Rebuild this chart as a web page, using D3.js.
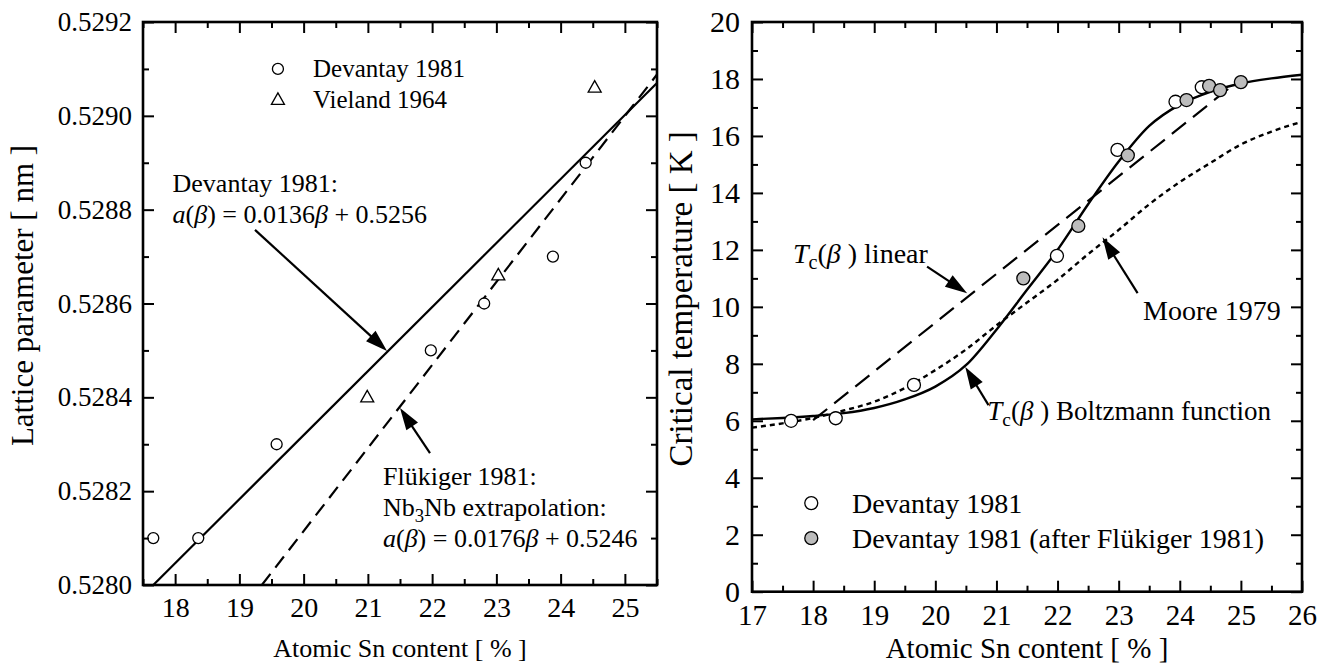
<!DOCTYPE html>
<html><head><meta charset="utf-8">
<script src="https://cdn.jsdelivr.net/npm/d3@7"></script>
<style>
body{margin:0;background:#fff}
svg text{font-family:"Liberation Serif","Times New Roman",serif;fill:#000}
</style>
</head><body>
<svg id="chart" width="1328" height="668"></svg>
<script>
// ---------- Left panel: lattice parameter ----------
const latXMajor = [18,19,20,21,22,23,24,25];
const latXMinor = [17.5,18.5,19.5,20.5,21.5,22.5,23.5,24.5,25.5];
const latYMajor = [0.5280,0.5282,0.5284,0.5286,0.5288,0.5290,0.5292];
const latYMinor = [0.5281,0.5283,0.5285,0.5287,0.5289,0.5291];
const devLatX = [17.66,18.36,19.58,21.98,22.81,23.88,24.39];
const devLatY = [0.52810,0.52810,0.52830,0.52850,0.52860,0.52870,0.52890];
const vieLatX = [20.99,23.03,24.53];
const vieLatY = [0.52840,0.52866,0.52906];
const devFitX = [17.66,25.5];
const devFitY = [0.52800,0.52907];
const flkFitX = [19.35,25.5];
const flkFitY = [0.52800,0.529088];

// ---------- Right panel: critical temperature ----------
const tcXMajor = [17,18,19,20,21,22,23,24,25,26];
const tcXMinor = [17.5,18.5,19.5,20.5,21.5,22.5,23.5,24.5,25.5];
const tcYMajor = [0,2,4,6,8,10,12,14,16,18,20];
const tcYMinor = [1,3,5,7,9,11,13,15,17,19];
const devTcX = [17.64,18.37,19.65,21.99,22.98,23.93,24.36];
const devTcY = [6.0,6.09,7.26,11.79,15.51,17.2,17.71];
const flkTcX = [21.44,22.34,23.15,24.11,24.48,24.66,25.0];
const flkTcY = [11.0,12.84,15.32,17.26,17.76,17.61,17.89];
const boltzX = [17,17.5,18,18.5,19,19.5,20,20.5,21,21.5,22,22.5,23,23.5,24,24.5,25,25.5,26];
const boltzY = [6.05,6.1,6.17,6.27,6.45,6.75,7.2,7.95,9.2,10.6,12.0,13.6,15.1,16.35,17.1,17.55,17.84,18.02,18.15];
const mooreX = [17,17.5,18,18.5,19,19.5,20,20.5,21,21.5,22,22.5,23,23.5,24,24.5,25,25.5,26];
const mooreY = [5.76,5.91,6.1,6.36,6.67,7.15,7.78,8.5,9.35,10.15,10.95,11.85,12.7,13.6,14.38,15.05,15.7,16.15,16.5];
const linTcX = [18.0,24.88];
const linTcY = [6.02,17.8];

const svg = d3.select("#chart");

function richText(g, x, y, segs, size, anchor) {
  const t = g.append("text").attr("x", x).attr("y", y).attr("font-size", size)
    .attr("text-anchor", anchor || "start");
  let shift = 0;
  segs.forEach(s => {
    const sp = t.append("tspan").text(s.t);
    if (s.i) sp.attr("font-style", "italic");
    if (s.sub) { sp.attr("font-size", size * 0.72).attr("dy", size * 0.22 - shift); shift = size * 0.22; }
    else if (shift) { sp.attr("dy", -shift); shift = 0; }
  });
  return t;
}

function arrow(g, x1, y1, x2, y2) {
  const L = 22, W = 7;
  const dx = x2 - x1, dy = y2 - y1, d = Math.hypot(dx, dy);
  const ux = dx / d, uy = dy / d;
  const bx = x2 - ux * L, by = y2 - uy * L;
  g.append("line").attr("x1", x1).attr("y1", y1).attr("x2", bx + ux * 2).attr("y2", by + uy * 2)
    .attr("stroke", "#000").attr("stroke-width", 2.2);
  g.append("path").attr("d", `M${x2},${y2}L${bx - uy * W},${by + ux * W}L${bx + uy * W},${by - ux * W}Z`)
    .attr("fill", "#000");
}

function frameAxes(g, x, y, o) {
  const W = o.r - o.l, H = o.b - o.t;
  const styl = sel => {
    sel.select(".domain").remove();
    sel.attr("font-family", null);
    sel.selectAll(".tick line").attr("stroke", "#000").attr("stroke-width", 2);
  };
  g.append("g").attr("transform", `translate(0,${o.b})`)
    .call(d3.axisBottom(x).tickValues(o.xMajor).tickSize(-11).tickPadding(o.xPad).tickFormat(d3.format("d")))
    .call(styl).call(s => s.selectAll("text").attr("font-size", o.xFont));
  g.append("g").attr("transform", `translate(0,${o.b})`)
    .call(d3.axisBottom(x).tickValues(o.xMinor).tickSize(-6).tickFormat("")).call(styl);
  g.append("g").attr("transform", `translate(0,${o.t})`)
    .call(d3.axisTop(x).tickValues(o.xMajor).tickSize(-11).tickFormat("")).call(styl);
  g.append("g").attr("transform", `translate(0,${o.t})`)
    .call(d3.axisTop(x).tickValues(o.xMinor).tickSize(-6).tickFormat("")).call(styl);
  g.append("g").attr("transform", `translate(${o.l},0)`)
    .call(d3.axisLeft(y).tickValues(o.yMajor).tickSize(-11).tickPadding(o.yPad).tickFormat(o.yFmt))
    .call(styl).call(s => s.selectAll("text").attr("font-size", o.yFont));
  g.append("g").attr("transform", `translate(${o.l},0)`)
    .call(d3.axisLeft(y).tickValues(o.yMinor).tickSize(-6).tickFormat("")).call(styl);
  g.append("g").attr("transform", `translate(${o.r},0)`)
    .call(d3.axisRight(y).tickValues(o.yMajor).tickSize(-11).tickFormat("")).call(styl);
  g.append("g").attr("transform", `translate(${o.r},0)`)
    .call(d3.axisRight(y).tickValues(o.yMinor).tickSize(-6).tickFormat("")).call(styl);
  g.append("rect").attr("x", o.l).attr("y", o.t).attr("width", W).attr("height", H)
    .attr("fill", "none").attr("stroke", "#000").attr("stroke-width", 2.6);
}

// ================= LEFT PANEL =================
{
  const o = {l: 143, r: 657, t: 22, b: 585};
  const x = d3.scaleLinear().domain([17.5, 25.5]).range([o.l, o.r]);
  const y = d3.scaleLinear().domain([0.5280, 0.5292]).range([o.b, o.t]);
  const g = svg.append("g");
  g.append("clipPath").attr("id", "clipL").append("rect")
    .attr("x", o.l).attr("y", o.t).attr("width", o.r - o.l).attr("height", o.b - o.t);
  const line = d3.line().x(d => x(d[0])).y(d => y(d[1]));
  g.append("path").datum(devFitX.map((v, i) => [v, devFitY[i]])).attr("d", line)
    .attr("clip-path", "url(#clipL)").attr("fill", "none").attr("stroke", "#000").attr("stroke-width", 2.2);
  g.append("path").datum(flkFitX.map((v, i) => [v, flkFitY[i]])).attr("d", line)
    .attr("clip-path", "url(#clipL)").attr("fill", "none").attr("stroke", "#000").attr("stroke-width", 2.2)
    .attr("stroke-dasharray", "14,8");
  g.selectAll(".dl").data(devLatX).join("circle")
    .attr("cx", d => x(d)).attr("cy", (d, i) => y(devLatY[i])).attr("r", 5.5)
    .attr("fill", "#fff").attr("stroke", "#000").attr("stroke-width", 1.3);
  const tri = "M0,-7L6.5,4.5L-6.5,4.5Z";
  g.selectAll(".vl").data(vieLatX).join("path")
    .attr("transform", (d, i) => `translate(${x(d)},${y(vieLatY[i])})`).attr("d", tri)
    .attr("fill", "#fff").attr("stroke", "#000").attr("stroke-width", 1.3);

  frameAxes(g, x, y, Object.assign(o, {
    xMajor: latXMajor, xMinor: latXMinor, yMajor: latYMajor, yMinor: latYMinor,
    xPad: 12, yPad: 11, xFont: 28, yFont: 27, yFmt: d3.format(".4f")
  }));

  // legend
  g.append("circle").attr("cx", x(19.6)).attr("cy", y(0.529100)).attr("r", 5.5)
    .attr("fill", "#fff").attr("stroke", "#000").attr("stroke-width", 1.3);
  g.append("path").attr("transform", `translate(${x(19.6)},${y(0.529034)})`).attr("d", tri)
    .attr("fill", "#fff").attr("stroke", "#000").attr("stroke-width", 1.3);
  richText(g, x(20.146), y(0.529083), [{t: "Devantay 1981"}], 25);
  richText(g, x(20.146), y(0.529017), [{t: "Vieland 1964"}], 25);

  // annotations
  richText(g, x(17.96), y(0.528838), [{t: "Devantay 1981:"}], 26);
  richText(g, x(17.96), y(0.528772), [{t: "a", i: 1}, {t: "("}, {t: "β", i: 1}, {t: ") = 0.0136"}, {t: "β", i: 1}, {t: " + 0.5256"}], 26);
  arrow(g, x(19.243), y(0.528757), x(21.298), y(0.528499));
  richText(g, x(21.235), y(0.528213), [{t: "Flükiger 1981:"}], 26);
  richText(g, x(21.235), y(0.528147), [{t: "Nb"}, {t: "3", sub: 1}, {t: "Nb extrapolation:"}], 26);
  richText(g, x(21.235), y(0.528081), [{t: "a", i: 1}, {t: "("}, {t: "β", i: 1}, {t: ") = 0.0176"}, {t: "β", i: 1}, {t: " + 0.5246"}], 26);
  arrow(g, x(21.967), y(0.528281), x(21.5), y(0.528377));

  // axis titles
  svg.append("text").attr("x", (o.l + o.r) / 2).attr("y", 657).attr("text-anchor", "middle")
    .attr("font-size", 26).text("Atomic Sn content [ % ]");
  svg.append("text").attr("transform", `translate(33,${(o.t + o.b) / 2 - 8}) rotate(-90)`)
    .attr("text-anchor", "middle").attr("font-size", 31).text("Lattice parameter [ nm ]");
}

// ================= RIGHT PANEL =================
{
  const o = {l: 752, r: 1302, t: 22, b: 591.7};
  const x = d3.scaleLinear().domain([17, 26]).range([o.l, o.r]);
  const y = d3.scaleLinear().domain([0, 20]).range([o.b, o.t]);
  const g = svg.append("g");
  g.append("clipPath").attr("id", "clipR").append("rect")
    .attr("x", o.l).attr("y", o.t).attr("width", o.r - o.l).attr("height", o.b - o.t);
  const line = d3.line().x(d => x(d[0])).y(d => y(d[1]));
  const curve = d3.line().x(d => x(d[0])).y(d => y(d[1])).curve(d3.curveMonotoneX);
  g.append("path").datum(mooreX.map((v, i) => [v, mooreY[i]])).attr("d", curve)
    .attr("clip-path", "url(#clipR)").attr("fill", "none").attr("stroke", "#000").attr("stroke-width", 2.4)
    .attr("stroke-dasharray", "5,4");
  g.append("path").datum(linTcX.map((v, i) => [v, linTcY[i]])).attr("d", line)
    .attr("clip-path", "url(#clipR)").attr("fill", "none").attr("stroke", "#000").attr("stroke-width", 2.2)
    .attr("stroke-dasharray", "18,9");
  g.append("path").datum(boltzX.map((v, i) => [v, boltzY[i]])).attr("d", curve)
    .attr("clip-path", "url(#clipR)").attr("fill", "none").attr("stroke", "#000").attr("stroke-width", 2.4);
  g.selectAll(".dt").data(devTcX).join("circle")
    .attr("cx", d => x(d)).attr("cy", (d, i) => y(devTcY[i])).attr("r", 6.5)
    .attr("fill", "#fff").attr("stroke", "#000").attr("stroke-width", 1.3);
  g.selectAll(".ft").data(flkTcX).join("circle")
    .attr("cx", d => x(d)).attr("cy", (d, i) => y(flkTcY[i])).attr("r", 6.5)
    .attr("fill", "#bcbcbc").attr("stroke", "#000").attr("stroke-width", 1.3);

  frameAxes(g, x, y, Object.assign(o, {
    xMajor: tcXMajor, xMinor: tcXMinor, yMajor: tcYMajor, yMinor: tcYMinor,
    xPad: 13, yPad: 12, xFont: 29, yFont: 30, yFmt: d3.format("d")
  }));

  // legend
  g.append("circle").attr("cx", x(17.97)).attr("cy", y(3.11)).attr("r", 6.5)
    .attr("fill", "#fff").attr("stroke", "#000").attr("stroke-width", 1.3);
  g.append("circle").attr("cx", x(17.97)).attr("cy", y(1.88)).attr("r", 6.5)
    .attr("fill", "#bcbcbc").attr("stroke", "#000").attr("stroke-width", 1.3);
  richText(g, x(18.635), y(2.76), [{t: "Devantay 1981"}], 28);
  richText(g, x(18.635), y(1.53), [{t: "Devantay 1981 (after Flükiger 1981)"}], 28);

  // annotations
  richText(g, x(17.67), y(11.54), [{t: "T", i: 1}, {t: "c", sub: 1}, {t: "("}, {t: "β", i: 1}, {t: " ) linear"}], 28);
  arrow(g, x(19.865), y(11.41), x(20.52), y(10.48));
  richText(g, x(23.4), y(9.54), [{t: "Moore 1979"}], 28);
  arrow(g, x(23.31), y(10.48), x(22.735), y(12.44));
  richText(g, x(20.85), y(6.03), [{t: "T", i: 1}, {t: "c", sub: 1}, {t: "("}, {t: "β", i: 1}, {t: " ) Boltzmann function"}], 27);
  arrow(g, x(20.87), y(6.55), x(20.49), y(7.89));

  // axis titles
  svg.append("text").attr("x", (o.l + o.r) / 2).attr("y", 658).attr("text-anchor", "middle")
    .attr("font-size", 29).text("Atomic Sn content [ % ]");
  svg.append("text").attr("transform", `translate(692,${(o.t + o.b) / 2 - 8}) rotate(-90)`)
    .attr("text-anchor", "middle").attr("font-size", 33).text("Critical temperature [ K ]");
}
</script>
</body></html>
